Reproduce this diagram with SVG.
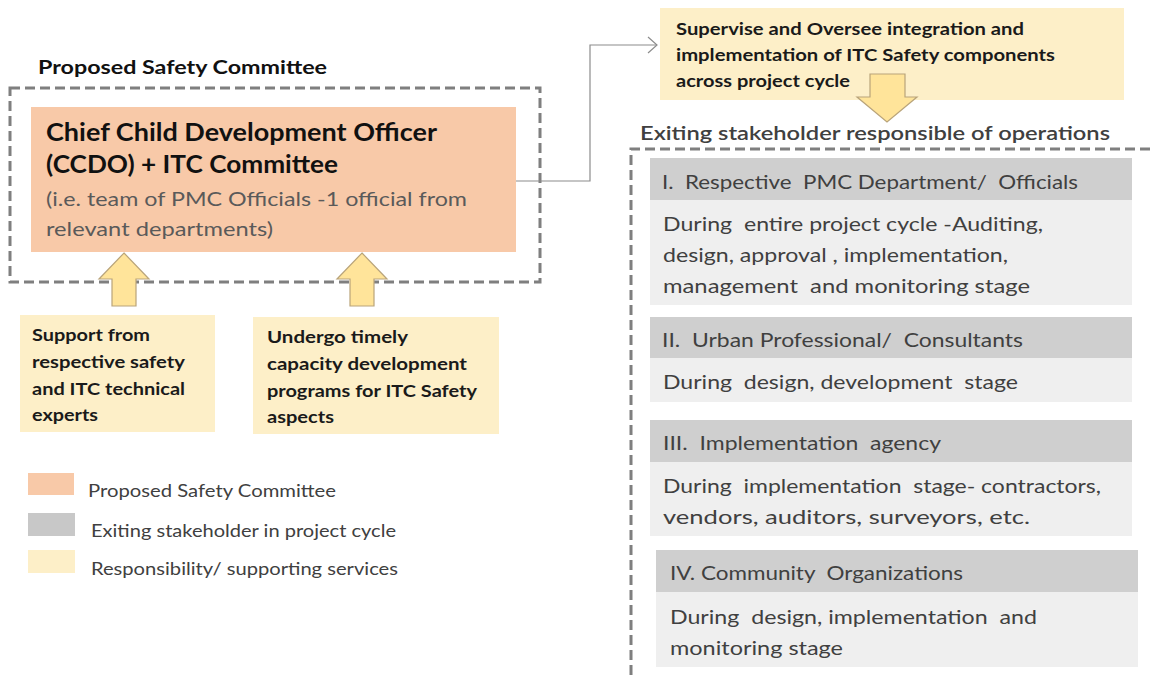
<svg xmlns="http://www.w3.org/2000/svg" width="1150" height="679" viewBox="0 0 1150 679">
  <style>
    text { font-family: Lato, "Open Sans", "Liberation Sans", sans-serif; white-space: pre; }
    .title { font-size: 19px; font-weight: bold; fill: #111; }
    .ccdo { font-size: 24px; font-weight: bold; fill: #111; }
    .sub { font-size: 20px; fill: #5a5a5a; }
    .note { font-size: 17px; font-weight: bold; fill: #1a1a1a; }
    .leg { font-size: 17px; fill: #404040; }
    .hd { font-size: 20px; fill: #404040; }
    .bd { font-size: 20px; fill: #404040; }
    .dash { fill: none; stroke: #7f7f7f; stroke-width: 3; stroke-dasharray: 10 5; }
    .peach { fill: #f8c9a8; }
    .pale { fill: #fdefc8; }
    .grey { fill: #cfcfcf; }
    .light { fill: #efefef; }
    .blk { fill: #ffe49a; stroke: #b9a47a; stroke-width: 1.2; }
    .conn { fill: none; stroke: #8c8c8c; stroke-width: 1.2; }
  </style>

  <rect width="1150" height="679" fill="#ffffff"/>

  <!-- left: proposed committee -->
  <g id="committee">
    <text class="title" x="38" y="74" textLength="289" lengthAdjust="spacingAndGlyphs">Proposed Safety Committee</text>
    <rect class="dash" x="10" y="88" width="530" height="194"/>
  </g>

  <g id="ccdo">
    <rect class="peach" x="31" y="107" width="485" height="145"/>
    <text class="ccdo" x="46" y="141" textLength="391" lengthAdjust="spacingAndGlyphs">Chief Child Development Officer</text>
    <text class="ccdo" x="46" y="173" textLength="292" lengthAdjust="spacingAndGlyphs">(CCDO) + ITC Committee</text>
    <text class="sub" x="46" y="206" textLength="421" lengthAdjust="spacingAndGlyphs">(i.e. team of PMC Officials -1 official from</text>
    <text class="sub" x="46" y="236" textLength="227" lengthAdjust="spacingAndGlyphs">relevant departments)</text>
  </g>

  <!-- block arrows feeding the committee -->
  <g id="arrow-support">
    <polygon class="blk" points="124,253 149,279 136,279 136,306 112,306 112,279 99,279"/>
  </g>
  <g id="arrow-capacity">
    <polygon class="blk" points="362,253 387,279 374,279 374,306 350,306 350,279 337,279"/>
  </g>

  <g id="support">
    <rect class="pale" x="20" y="315" width="195" height="117"/>
    <text class="note" x="32" y="341" textLength="118" lengthAdjust="spacingAndGlyphs">Support from</text>
    <text class="note" x="32" y="368" textLength="153" lengthAdjust="spacingAndGlyphs">respective safety</text>
    <text class="note" x="32" y="395" textLength="153" lengthAdjust="spacingAndGlyphs">and ITC technical</text>
    <text class="note" x="32" y="421" textLength="66" lengthAdjust="spacingAndGlyphs">experts</text>
  </g>

  <g id="capacity">
    <rect class="pale" x="253" y="317" width="246" height="117"/>
    <text class="note" x="267" y="343" textLength="141" lengthAdjust="spacingAndGlyphs">Undergo timely</text>
    <text class="note" x="267" y="370" textLength="200" lengthAdjust="spacingAndGlyphs">capacity development</text>
    <text class="note" x="267" y="397" textLength="210" lengthAdjust="spacingAndGlyphs">programs for ITC Safety</text>
    <text class="note" x="267" y="423" textLength="67" lengthAdjust="spacingAndGlyphs">aspects</text>
  </g>

  <!-- legend -->
  <g id="legend">
    <rect class="peach" x="28" y="473" width="46" height="22"/>
    <text class="leg" x="88" y="497" textLength="248" lengthAdjust="spacingAndGlyphs">Proposed Safety Committee</text>
    <rect fill="#c8c8c8" x="28" y="513" width="47" height="23"/>
    <text class="leg" x="91" y="537" textLength="305" lengthAdjust="spacingAndGlyphs">Exiting stakeholder in project cycle</text>
    <rect class="pale" x="28" y="550" width="47" height="23"/>
    <text class="leg" x="91" y="575" textLength="307" lengthAdjust="spacingAndGlyphs">Responsibility/ supporting services</text>
  </g>

  <!-- connector: committee to supervision role -->
  <g id="connectors">
    <polyline class="conn" points="516,181 590,181 590,45 657,45"/>
    <polyline class="conn" points="648,37 657,45 648,53"/>
  </g>

  <g id="supervise">
    <rect class="pale" x="660" y="8" width="464" height="92"/>
    <text class="note" x="676" y="35" textLength="348" lengthAdjust="spacingAndGlyphs">Supervise and Oversee integration and</text>
    <text class="note" x="676" y="61" textLength="379" lengthAdjust="spacingAndGlyphs">implementation of ITC Safety components</text>
    <text class="note" x="676" y="87" textLength="174" lengthAdjust="spacingAndGlyphs">across project cycle</text>
  </g>

  <g id="arrow-down">
    <polygon class="blk" points="870,74 905,74 905,97 917,97 887,122 857,97 870,97"/>
  </g>

  <!-- right: existing stakeholders -->
  <g id="stakeholders">
    <text class="hd" x="640" y="140" font-weight="600" fill="#1a1a1a" textLength="470" lengthAdjust="spacingAndGlyphs">Exiting stakeholder responsible of operations</text>
    <polyline class="dash" points="631,690 631,149 1160,149"/>
  </g>

  <g id="stake-1">
    <rect class="grey" x="650" y="158" width="482" height="42"/>
    <rect class="light" x="650" y="200" width="482" height="105"/>
    <text class="hd" x="662" y="189" textLength="416" lengthAdjust="spacingAndGlyphs">I.  Respective  PMC Department/  Officials</text>
    <text class="bd" x="663" y="231" textLength="380" lengthAdjust="spacingAndGlyphs">During  entire project cycle -Auditing,</text>
    <text class="bd" x="663" y="262" textLength="345" lengthAdjust="spacingAndGlyphs">design, approval , implementation,</text>
    <text class="bd" x="663" y="293" textLength="367" lengthAdjust="spacingAndGlyphs">management  and monitoring stage</text>
  </g>

  <g id="stake-2">
    <rect class="grey" x="650" y="317" width="482" height="41"/>
    <rect class="light" x="650" y="358" width="482" height="44"/>
    <text class="hd" x="662" y="347" textLength="361" lengthAdjust="spacingAndGlyphs">II.  Urban Professional/  Consultants</text>
    <text class="bd" x="663" y="389" textLength="355" lengthAdjust="spacingAndGlyphs">During  design, development  stage</text>
  </g>

  <g id="stake-3">
    <rect class="grey" x="650" y="420" width="482" height="42"/>
    <rect class="light" x="650" y="462" width="482" height="74"/>
    <text class="hd" x="663" y="450" textLength="278" lengthAdjust="spacingAndGlyphs">III.  Implementation  agency</text>
    <text class="bd" x="663" y="493" textLength="438" lengthAdjust="spacingAndGlyphs">During  implementation  stage- contractors,</text>
    <text class="bd" x="663" y="524" textLength="367" lengthAdjust="spacingAndGlyphs">vendors, auditors, surveyors, etc.</text>
  </g>

  <g id="stake-4">
    <rect class="grey" x="656" y="550" width="482" height="42"/>
    <rect class="light" x="656" y="592" width="482" height="75"/>
    <text class="hd" x="670" y="580" textLength="293" lengthAdjust="spacingAndGlyphs">IV. Community  Organizations</text>
    <text class="bd" x="670" y="624" textLength="367" lengthAdjust="spacingAndGlyphs">During  design, implementation  and</text>
    <text class="bd" x="670" y="655" textLength="173" lengthAdjust="spacingAndGlyphs">monitoring stage</text>
  </g>
</svg>
